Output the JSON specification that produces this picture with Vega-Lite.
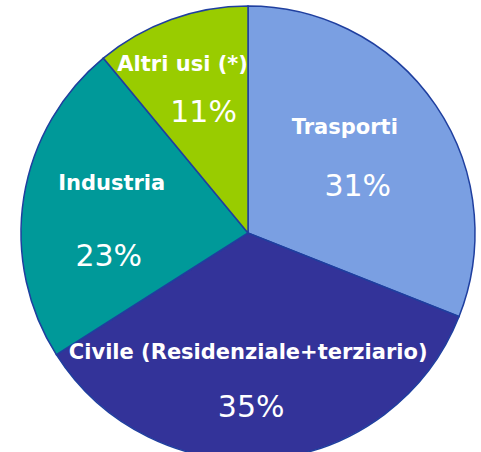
{
  "$schema": "https://vega.github.io/schema/vega-lite/v6.json",
  "width": 481,
  "height": 452,
  "autosize": {"type": "fit", "contains": "padding"},
  "padding": {"left": 15, "top": 14, "right": 0, "bottom": 0},
  "background": "white",
  "view": {"stroke": null},
  "data": {
    "values": [
      {"settore": "Trasporti", "quota": 0.31, "ordine": 1},
      {"settore": "Civile (Residenziale+terziario)", "quota": 0.35, "ordine": 2},
      {"settore": "Industria", "quota": 0.23, "ordine": 3},
      {"settore": "Altri usi (*)", "quota": 0.11, "ordine": 4}
    ]
  },
  "encoding": {
    "theta": {"field": "quota", "type": "quantitative", "stack": true},
    "order": {"field": "ordine", "type": "quantitative"}
  },
  "layer": [
    {
      "mark": {"type": "arc", "outerRadius": 227, "stroke": "#1f3f9f", "strokeWidth": 1.5},
      "encoding": {
        "color": {
          "field": "settore",
          "type": "nominal",
          "scale": {
            "domain": ["Trasporti", "Civile (Residenziale+terziario)", "Industria", "Altri usi (*)"],
            "range": ["#7a9fe2", "#333399", "#009999", "#99cc00"]
          },
          "legend": null
        }
      }
    },
    {
      "mark": {"type": "text", "radius": 140, "dx": -19, "dy": -26, "font": "DejaVu Sans", "fontWeight": "bold", "fontSize": 21, "letterSpacing": 1, "fill": "white", "align": "center", "baseline": "middle"},
      "encoding": {"text": {"field": "settore", "type": "nominal"}, "opacity": {"condition": {"test": "datum.settore === 'Trasporti'", "value": 1}, "value": 0}}
    },
    {
      "mark": {"type": "text", "radius": 140, "dx": -6, "dy": 33, "font": "DejaVu Sans", "fontSize": 30, "fill": "white", "align": "center", "baseline": "middle"},
      "encoding": {"text": {"field": "quota", "type": "quantitative", "format": ".0%"}, "opacity": {"condition": {"test": "datum.settore === 'Trasporti'", "value": 1}, "value": 0}}
    },
    {
      "mark": {"type": "text", "radius": 140, "dx": -13, "dy": -19, "font": "DejaVu Sans", "fontWeight": "bold", "fontSize": 21, "letterSpacing": 1, "fill": "white", "align": "center", "baseline": "middle"},
      "encoding": {"text": {"field": "settore", "type": "nominal"}, "opacity": {"condition": {"test": "datum.settore === 'Civile (Residenziale+terziario)'", "value": 1}, "value": 0}}
    },
    {
      "mark": {"type": "text", "radius": 140, "dx": -10, "dy": 36, "font": "DejaVu Sans", "fontSize": 30, "fill": "white", "align": "center", "baseline": "middle"},
      "encoding": {"text": {"field": "quota", "type": "quantitative", "format": ".0%"}, "opacity": {"condition": {"test": "datum.settore === 'Civile (Residenziale+terziario)'", "value": 1}, "value": 0}}
    },
    {
      "mark": {"type": "text", "radius": 140, "dx": 2, "dy": -27, "font": "DejaVu Sans", "fontWeight": "bold", "fontSize": 21, "letterSpacing": 1, "fill": "white", "align": "center", "baseline": "middle"},
      "encoding": {"text": {"field": "settore", "type": "nominal"}, "opacity": {"condition": {"test": "datum.settore === 'Industria'", "value": 1}, "value": 0}}
    },
    {
      "mark": {"type": "text", "radius": 140, "dx": -1, "dy": 46, "font": "DejaVu Sans", "fontSize": 30, "fill": "white", "align": "center", "baseline": "middle"},
      "encoding": {"text": {"field": "quota", "type": "quantitative", "format": ".0%"}, "opacity": {"condition": {"test": "datum.settore === 'Industria'", "value": 1}, "value": 0}}
    },
    {
      "mark": {"type": "text", "radius": 140, "dx": -18, "dy": -36, "font": "DejaVu Sans", "fontWeight": "bold", "fontSize": 21, "letterSpacing": 1, "fill": "white", "align": "center", "baseline": "middle"},
      "encoding": {"text": {"field": "settore", "type": "nominal"}, "opacity": {"condition": {"test": "datum.settore === 'Altri usi (*)'", "value": 1}, "value": 0}}
    },
    {
      "mark": {"type": "text", "radius": 140, "dx": 3, "dy": 12, "font": "DejaVu Sans", "fontSize": 30, "fill": "white", "align": "center", "baseline": "middle"},
      "encoding": {"text": {"field": "quota", "type": "quantitative", "format": ".0%"}, "opacity": {"condition": {"test": "datum.settore === 'Altri usi (*)'", "value": 1}, "value": 0}}
    }
  ]
}
